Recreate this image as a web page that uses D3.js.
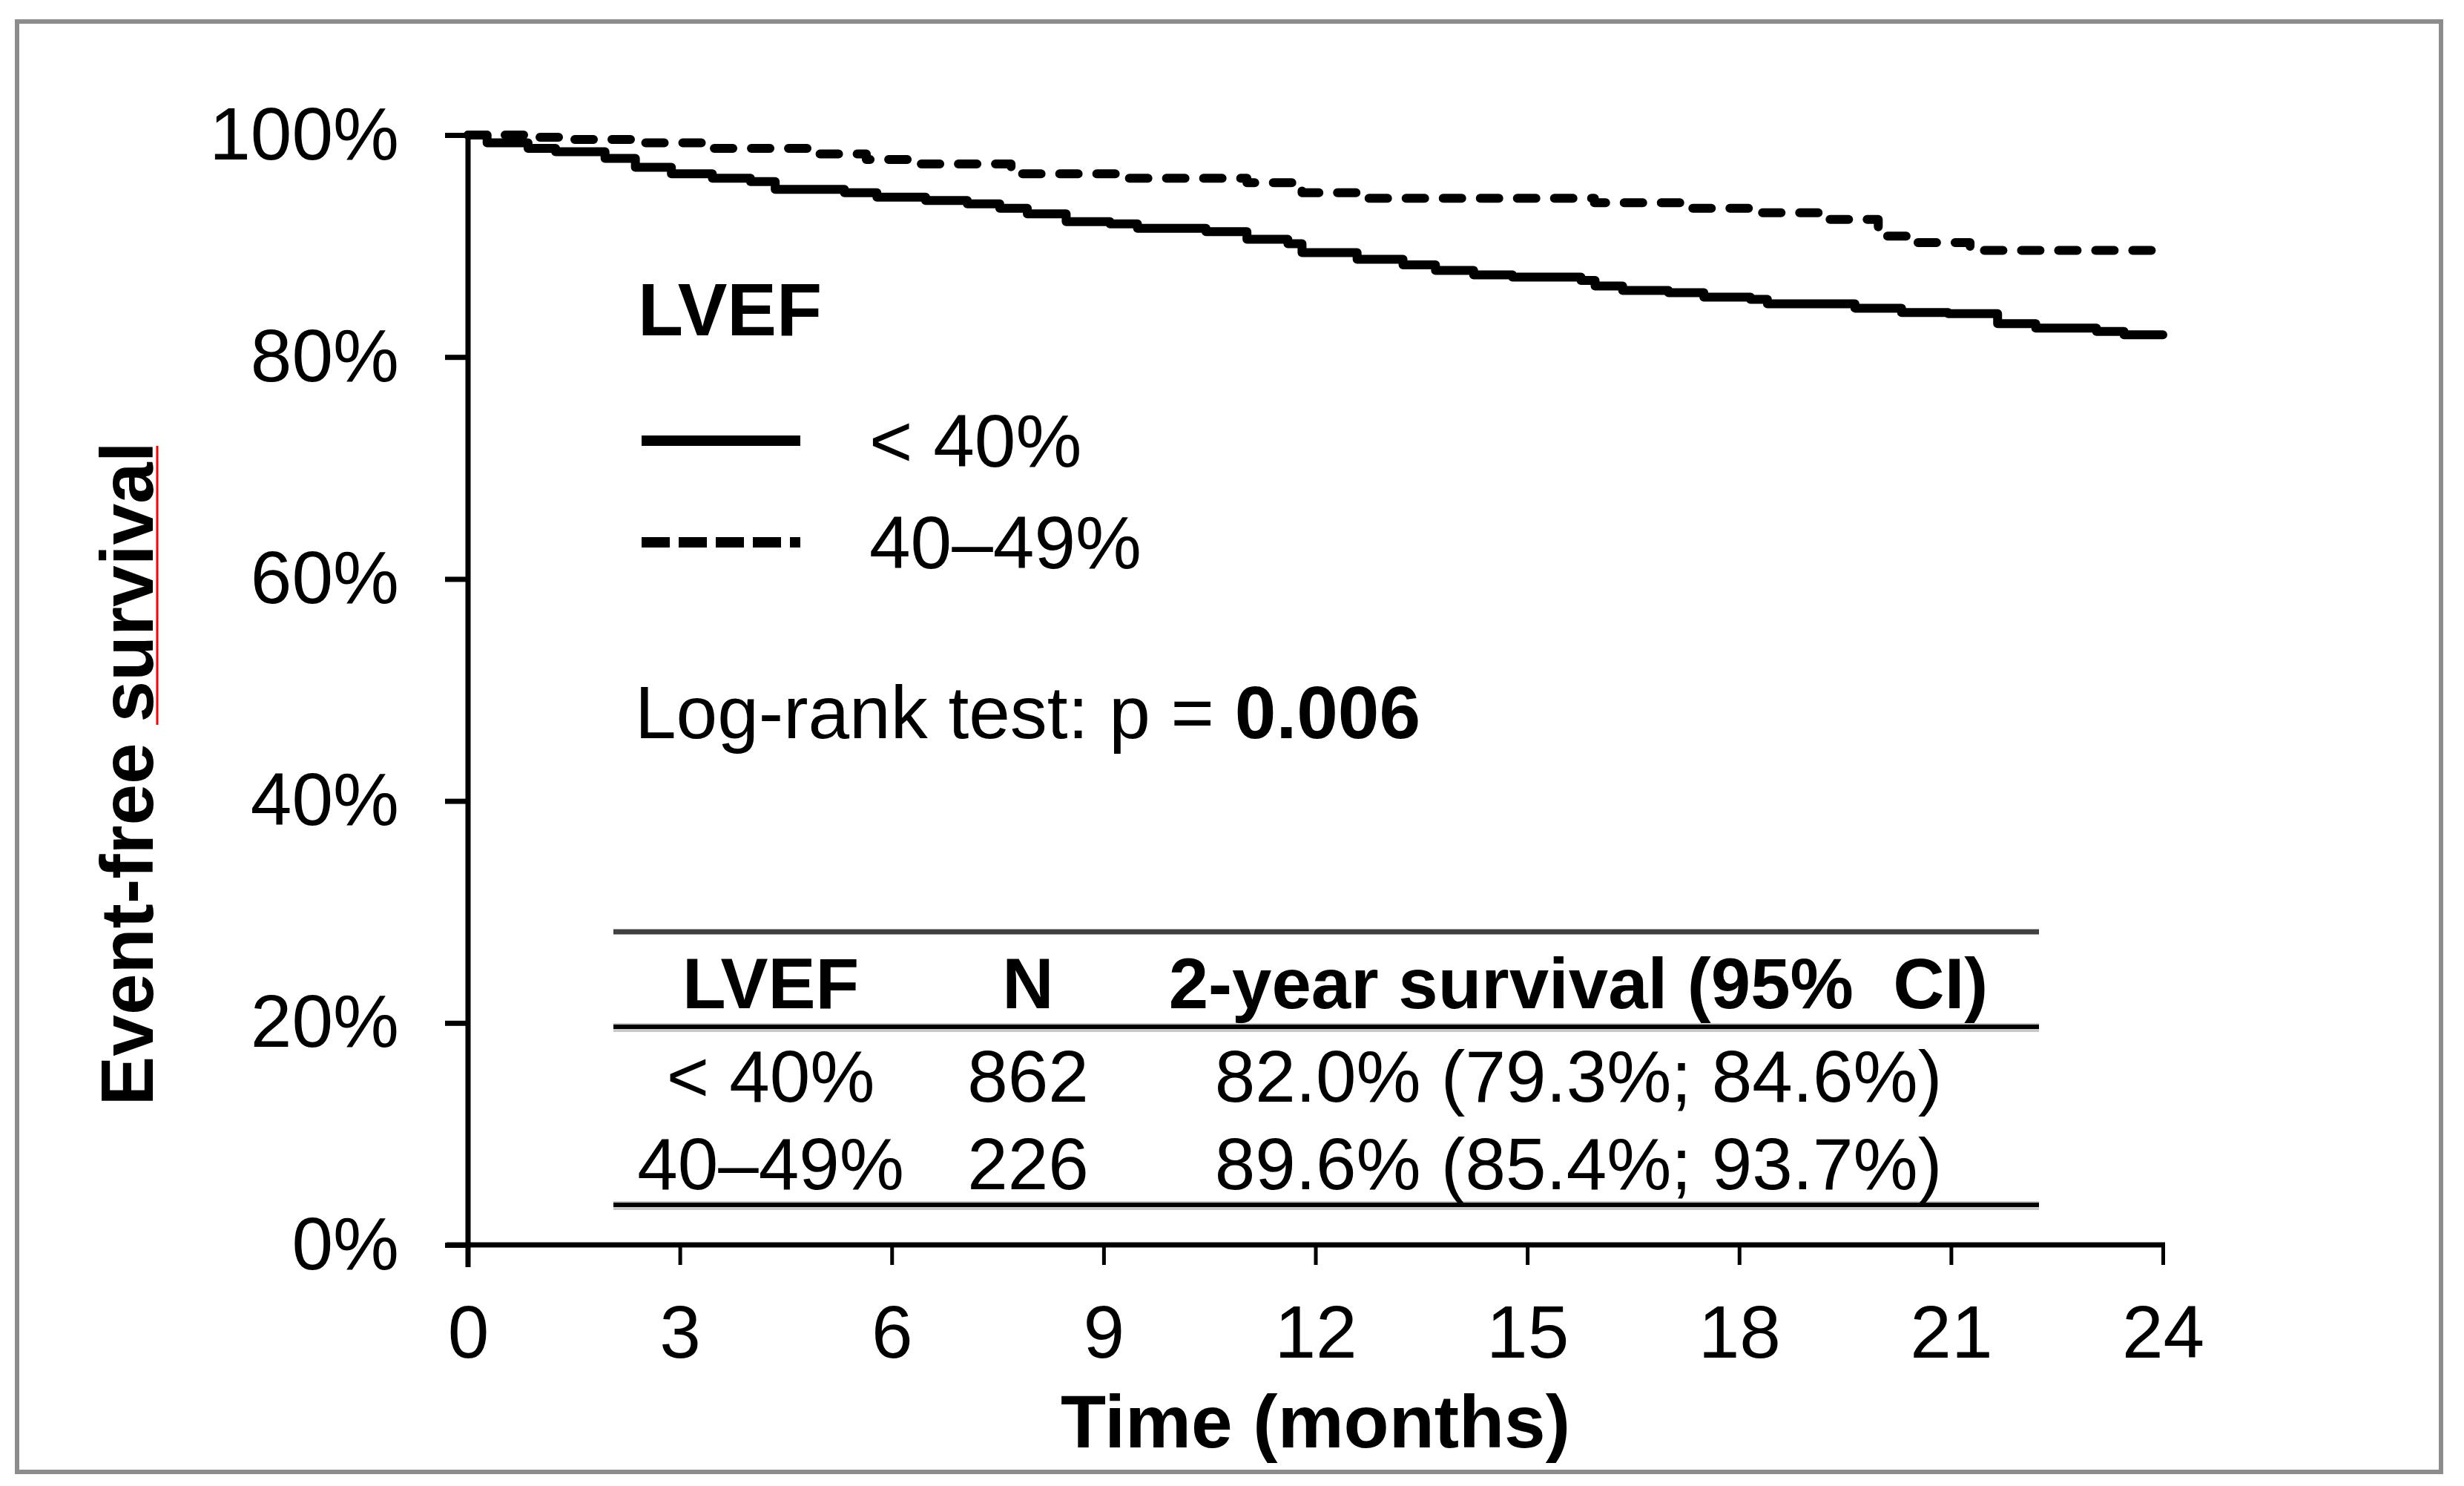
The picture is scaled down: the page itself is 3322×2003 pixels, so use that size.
<!DOCTYPE html>
<html lang="en">
<head>
  <meta charset="UTF-8">
  <script src="https://d3js.org/d3.v7.min.js"></script>
  <style>
    body { margin: 0; background: white; }
    text { font-family: "Liberation Sans", Arial, sans-serif; fill: black; white-space: pre; }
  </style>
</head>
<body>
  <div id="chart"></div>
  <script>
    // step points (months, survival)
    const lowMonths = [0, 0.27, 0.85, 1.24, 1.94, 2.37, 2.88, 3.46, 4.0, 4.35, 5.33, 5.79, 6.48, 7.07, 7.53, 7.92, 8.47, 9.09, 9.48, 10.45, 11.03, 11.61, 11.81, 12.59, 13.24, 13.7, 14.24, 14.79, 15.76, 15.96, 16.35, 17.0, 17.5, 18.16, 18.4, 19.64, 20.3, 20.96, 21.66, 22.2, 23.06, 23.45, 24];
    const lowSurv = [1.0, 0.993, 0.988, 0.985, 0.979, 0.971, 0.965, 0.961, 0.958, 0.951, 0.948, 0.944, 0.941, 0.938, 0.934, 0.929, 0.922, 0.920, 0.916, 0.913, 0.906, 0.902, 0.894, 0.888, 0.883, 0.878, 0.874, 0.872, 0.869, 0.864, 0.860, 0.858, 0.854, 0.852, 0.848, 0.844, 0.840, 0.839, 0.830, 0.826, 0.823, 0.820, 0.820];

    const midMonths = [0, 0.98, 1.44, 2.41, 3.38, 4.9, 5.64, 6.32, 7.69, 9.28, 11.03, 11.81, 12.67, 15.95, 17.27, 18.2, 19.23, 19.97, 20.47, 21.27, 24];
    const midSurv = [1.0, 0.998, 0.996, 0.993, 0.988, 0.983, 0.978, 0.974, 0.965, 0.961, 0.957, 0.948, 0.943, 0.939, 0.934, 0.930, 0.924, 0.909, 0.903, 0.896, 0.896];

    const xTicks = [0, 3, 6, 9, 12, 15, 18, 21, 24];
    const yTicks = [0, 0.2, 0.4, 0.6, 0.8, 1.0];

    const legendLabels = ["< 40%", "40\u201349%"];

    const tableHeader = ["LVEF", "N", "2-year survival (95%  CI)"];
    const tableGroups = ["< 40%", "40\u201349%"];
    const tableN = ["862", "226"];
    const tableSurv = ["82.0% (79.3%; 84.6%)", "89.6% (85.4%; 93.7%)"];

    const W = 3322, H = 2003;
    const svg = d3.select("#chart").append("svg")
      .attr("width", W).attr("height", H);

    svg.append("rect").attr("width", W).attr("height", H).attr("fill", "white");

    // outer frame
    svg.append("rect")
      .attr("x", 23).attr("y", 29)
      .attr("width", 3268).attr("height", 1955)
      .attr("fill", "none").attr("stroke", "#8c8c8c").attr("stroke-width", 6);

    const x = d3.scaleLinear().domain([0, 24]).range([631, 2916]);
    const y = d3.scaleLinear().domain([0, 1]).range([1678, 182]);

    // y axis
    const yAxis = d3.axisLeft(y).tickValues(yTicks).tickSize(31).tickSizeOuter(0)
      .tickPadding(62).tickFormat(d3.format(".0%"));
    const gy = svg.append("g").attr("transform", `translate(${x(0)},0)`).call(yAxis);
    gy.select(".domain").remove();
    gy.selectAll(".tick line").attr("stroke", "black").attr("stroke-width", 7);
    gy.selectAll(".tick text").style("font-size", "100px").attr("fill", "black");

    // x axis
    const xAxis = d3.axisBottom(x).tickValues(xTicks).tickSize(27).tickSizeOuter(0)
      .tickPadding(54);
    const gx = svg.append("g").attr("transform", `translate(0,${y(0)})`).call(xAxis);
    gx.select(".domain").remove();
    gx.selectAll(".tick line").attr("stroke", "black").attr("stroke-width", 5);
    gx.selectAll(".tick text").style("font-size", "100px").attr("fill", "black");

    // axis lines
    svg.append("line")
      .attr("x1", x(0)).attr("x2", x(0)).attr("y1", y(1) - 3).attr("y2", y(0) + 30)
      .attr("stroke", "black").attr("stroke-width", 7);
    svg.append("line")
      .attr("x1", x(0) - 29).attr("x2", x(24) + 3).attr("y1", y(0)).attr("y2", y(0))
      .attr("stroke", "black").attr("stroke-width", 7);

    // axis titles
    svg.append("text")
      .attr("x", (x(0) + x(24)) / 2).attr("y", 1951)
      .attr("text-anchor", "middle")
      .style("font-size", "100px").style("font-weight", "bold")
      .text("Time (months)");

    svg.append("text")
      .attr("transform", "translate(206,1043) rotate(-90)")
      .attr("text-anchor", "middle")
      .style("font-size", "100px").style("font-weight", "bold")
      .text("Event-free survival");
    // spell-check underline under "survival"
    svg.append("line")
      .attr("x1", 212).attr("x2", 212).attr("y1", 601).attr("y2", 977)
      .attr("stroke", "#ff0000").attr("stroke-width", 3);

    // curves
    const line = d3.line()
      .x(d => x(d[0])).y(d => y(d[1]))
      .curve(d3.curveStepAfter);

    svg.append("path")
      .datum(lowMonths.map((m, i) => [m, lowSurv[i]]))
      .attr("d", line)
      .attr("fill", "none").attr("stroke", "black").attr("stroke-width", 12)
      .attr("stroke-linejoin", "round").attr("stroke-linecap", "round");

    svg.append("path")
      .datum(midMonths.map((m, i) => [m, midSurv[i]]))
      .attr("d", line)
      .attr("fill", "none").attr("stroke", "black").attr("stroke-width", 12)
      .attr("stroke-dasharray", "25,25")
      .attr("stroke-linejoin", "round").attr("stroke-linecap", "round");

    // legend
    svg.append("text")
      .attr("x", 860).attr("y", 452)
      .style("font-size", "100px").style("font-weight", "bold")
      .text("LVEF");

    const legendY = [594, 731];
    const legendDash = [null, "38,12"];
    legendLabels.forEach((lab, i) => {
      svg.append("line")
        .attr("x1", 865).attr("x2", 1079)
        .attr("y1", legendY[i]).attr("y2", legendY[i])
        .attr("stroke", "black").attr("stroke-width", 14)
        .attr("stroke-dasharray", legendDash[i]);
      svg.append("text")
        .attr("x", 1172).attr("y", legendY[i] + 35)
        .style("font-size", "100px")
        .text(lab);
    });

    const lr = svg.append("text")
      .attr("x", 856).attr("y", 995)
      .style("font-size", "100px");
    lr.append("tspan").text("Log-rank test: p = ");
    lr.append("tspan").style("font-weight", "bold").text("0.006");

    // table
    const colX = [1039, 1386, 2128];
    const rule = (yy, color, w) => {
      svg.append("line")
        .attr("x1", 827).attr("x2", 2749).attr("y1", yy).attr("y2", yy)
        .attr("stroke", color).attr("stroke-width", w);
    };
    rule(1256, "#404040", 7);
    rule(1385, "#c8c8c8", 12);
    rule(1384, "black", 6);
    rule(1625, "#c8c8c8", 12);
    rule(1624, "black", 6);

    tableHeader.forEach((h, i) => {
      svg.append("text")
        .attr("x", colX[i]).attr("y", 1359)
        .attr("text-anchor", "middle")
        .style("font-size", "96px").style("font-weight", "bold")
        .text(h);
    });

    const rowY = [1485, 1603];
    tableGroups.forEach((g, r) => {
      [g, tableN[r], tableSurv[r]].forEach((t, i) => {
        svg.append("text")
          .attr("x", colX[i]).attr("y", rowY[r])
          .attr("text-anchor", "middle")
          .style("font-size", "98px")
          .text(t);
      });
    });
  </script>
</body>
</html>
